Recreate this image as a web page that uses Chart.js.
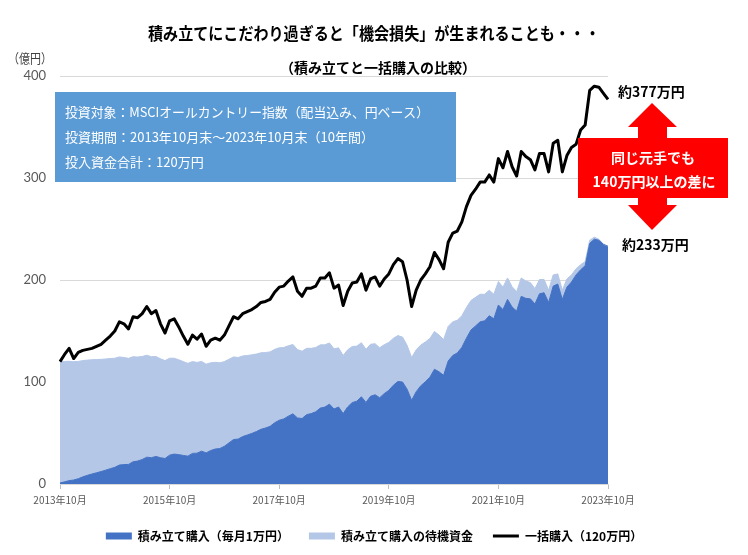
<!DOCTYPE html>
<html lang="ja">
<head>
<meta charset="utf-8">
<script src="https://cdn.jsdelivr.net/npm/chart.js@4"></script>
<style>
  body { margin: 0; background: #fff; }
  #wrap { width: 748px; height: 555px; position: relative; }
</style>
</head>
<body>
<div id="wrap"><canvas id="chart"></canvas></div>
<script>
// monthly data, 2013年10月 .. 2023年10月 (万円)
const startYear = 2013;
const startMonth = 10;
const monthCount = 121;

const tickLabels = ['2013年10月', '2015年10月', '2017年10月', '2019年10月', '2021年10月', '2023年10月'];
const yTicks = [0, 100, 200, 300, 400];

const seriesNames = ['積み立て購入（毎月1万円）', '積み立て購入の待機資金', '一括購入（120万円）'];

// 一括購入 (black line)
const lumpSum = [
  120, 127, 133, 123, 129, 131, 132, 133, 135, 137,
  141, 145, 150, 159, 157, 152, 164, 163, 167, 174,
  167, 170, 157, 148, 160, 162, 154, 145, 137, 146,
  142, 147, 135, 141, 143, 141, 146, 155, 164, 162,
  167, 169, 171, 174, 178, 179, 181, 188, 193, 194,
  199, 203, 189, 184, 192, 192, 194, 202, 202, 207,
  192, 195, 175, 189, 197, 198, 206, 190, 201, 203,
  194, 201, 206, 215, 221, 218, 200, 174, 190, 200,
  206, 213, 227, 220, 211, 237, 246, 248, 257, 272,
  283, 289, 296, 296, 303, 296, 319, 310, 326, 311,
  302, 326, 321, 318, 308, 324, 324, 306, 334, 337,
  306, 322, 330, 333, 347, 352, 386, 390, 389, 383,
  377
];

// 積み立て購入 (dark blue area)
const tsumitate = [
  1, 2.1, 3.3, 3.9, 5.2, 7, 8.5, 9.8, 11, 12.2,
  13.6, 15, 16.3, 18.6, 19, 19.2, 21.8, 22.5, 24, 26.3,
  25.8, 27, 25.8, 25, 28.3, 29.3, 28.8, 28, 27.3, 30,
  30.2, 32.2, 30.5, 32.8, 34.3, 34.8, 37, 40.3, 43.6, 44,
  46.5, 48, 49.6, 51.4, 53.6, 54.9, 56.5, 60, 62.5, 63.8,
  66.5, 68.8, 64.8, 64.2, 68, 69, 70.8, 74.4, 75.4, 78.3,
  73.5, 75.5, 69, 75.6, 79.8, 81.2, 85.5, 80, 86, 87.5,
  84.6, 88.6, 91.8, 96.8, 100.5, 100, 93, 82, 90.5, 96.3,
  100.2, 104.7, 112.5, 110, 106.5, 120.5, 126, 128.5, 134, 143,
  151, 155, 159, 160, 165, 162, 175.5, 171, 181, 173.5,
  169.5, 184, 182, 181.5, 176.5, 186.5, 187.5, 178, 194, 196,
  181, 193, 198, 205, 210, 214, 236, 240, 239, 235,
  233
];

// 積み立て購入の待機資金 (light blue, stacked on the dark area)
const waitingCash = [
  119, 118, 117, 116, 115, 114, 113, 112, 111, 110,
  109, 108, 107, 106, 105, 104, 103, 102, 101, 100,
  99, 98, 97, 96, 95, 94, 93, 92, 91, 90,
  89, 88, 87, 86, 85, 84, 83, 82, 81, 80,
  79, 78, 77, 76, 75, 74, 73, 72, 71, 70,
  69, 68, 67, 66, 65, 64, 63, 62, 61, 60,
  59, 58, 57, 56, 55, 54, 53, 52, 51, 50,
  49, 48, 47, 46, 45, 44, 43, 42, 41, 40,
  39, 38, 37, 36, 35, 34, 33, 32, 31, 30,
  29, 28, 27, 26, 25, 24, 23, 22, 21, 20,
  19, 18, 17, 16, 15, 14, 13, 12, 11, 10,
  9, 8, 7, 6, 5, 4, 3, 2, 1, 0,
  0
];

const months = [];
for (let i = 0; i < monthCount; i++) {
  const t = startMonth - 1 + i;
  months.push((startYear + Math.floor(t / 12)) + '年' + (t % 12 + 1) + '月');
}

const jp = '"Noto Sans CJK JP", sans-serif';

// draw text squeezed to a target width when needed
function fitText(ctx, text, x, y, maxW, align) {
  const w = ctx.measureText(text).width;
  const s = maxW ? Math.min(1, maxW / w) : 1;
  ctx.save();
  ctx.translate(x, y);
  ctx.scale(s, 1);
  ctx.textAlign = align || 'left';
  ctx.fillText(text, 0, 0);
  ctx.restore();
}

const notes = {
  id: 'notes',
  afterDraw(chart) {
    const ctx = chart.ctx;
    ctx.save();
    ctx.textBaseline = 'middle';

    // titles
    ctx.fillStyle = '#000';
    ctx.font = 'bold 17px ' + jp;
    fitText(ctx, '積み立てにこだわり過ぎると「機会損失」が生まれることも・・・', 374, 34, 452, 'center');
    ctx.font = 'bold 14px ' + jp;
    fitText(ctx, '（積み立てと一括購入の比較）', 378, 68, 200, 'center');

    ctx.fillStyle = '#404040';
    ctx.font = '13px ' + jp;
    fitText(ctx, '（億円）', 8, 58, 44, 'left');

    // info box
    ctx.fillStyle = '#5b9bd5';
    ctx.fillRect(55, 92, 401, 90);
    ctx.fillStyle = '#fff';
    ctx.font = '13px ' + jp;
    fitText(ctx, '投資対象：MSCIオールカントリー指数（配当込み、円ベース）', 65, 112, 364, 'left');
    fitText(ctx, '投資期間：2013年10月末～2023年10月末（10年間）', 65, 137, 354, 'left');
    fitText(ctx, '投入資金合計：120万円', 65, 162, 160, 'left');

    // red double arrow + box
    ctx.fillStyle = '#ff0000';
    ctx.beginPath();
    ctx.moveTo(652, 103);
    ctx.lineTo(677, 127);
    ctx.lineTo(667, 127);
    ctx.lineTo(667, 205);
    ctx.lineTo(677, 205);
    ctx.lineTo(652, 230);
    ctx.lineTo(628, 205);
    ctx.lineTo(638, 205);
    ctx.lineTo(638, 127);
    ctx.lineTo(628, 127);
    ctx.closePath();
    ctx.fill();
    ctx.fillRect(578, 138, 150, 60);

    ctx.fillStyle = '#fff';
    ctx.font = 'bold 14px ' + jp;
    fitText(ctx, '同じ元手でも', 653, 158, 0, 'center');
    fitText(ctx, '140万円以上の差に', 654, 182, 126, 'center');

    // end labels
    ctx.fillStyle = '#000';
    ctx.font = 'bold 14px ' + jp;
    fitText(ctx, '約377万円', 618, 92, 0, 'left');
    fitText(ctx, '約233万円', 622, 245, 0, 'left');

    ctx.restore();
  }
};

const ctx = document.getElementById('chart').getContext('2d');
const myChart = new Chart(ctx, {
  type: 'line',
  data: {
    labels: months,
    datasets: [{
      label: seriesNames[0],
      data: tsumitate,
      stack: 'acc',
      order: 1,
      fill: 'origin',
      backgroundColor: '#4472c4',
      borderColor: '#4472c4',
      borderWidth: 1,
      pointRadius: 0,
      pointStyle: 'rect',
      pointBackgroundColor: '#4472c4',
      pointBorderWidth: 0
    }, {
      label: seriesNames[1],
      data: waitingCash,
      stack: 'acc',
      order: 1,
      fill: '-1',
      backgroundColor: '#b4c7e7',
      borderColor: '#b4c7e7',
      borderWidth: 1,
      pointRadius: 0,
      pointStyle: 'rect',
      pointBackgroundColor: '#b4c7e7',
      pointBorderWidth: 0
    }, {
      label: seriesNames[2],
      data: lumpSum,
      stack: 'lump',
      order: 0,
      fill: false,
      borderColor: '#000',
      backgroundColor: '#000',
      borderWidth: 3,
      borderJoinStyle: 'round',
      pointRadius: 0,
      pointStyle: 'line',
      pointBorderColor: '#000',
      pointBorderWidth: 3
    }]
  },
  options: {
    responsive: true,
    maintainAspectRatio: false,
    animation: false,
    layout: { padding: { left: 0, right: 0, top: 76, bottom: 3 } },
    plugins: {
      filler: { drawTime: 'beforeDatasetsDraw' },
      tooltip: { enabled: false },
      title: { display: false },
      legend: {
        position: 'bottom',
        labels: {
          usePointStyle: true,
          pointStyleWidth: 26,
          boxHeight: 7,
          padding: 20,
          color: '#000',
          font: { family: jp, size: 12, weight: 'bold' },
          sort: (a, b) => a.datasetIndex - b.datasetIndex
        }
      }
    },
    scales: {
      x: {
        afterFit: (scale) => { scale.height = 26; },
        grid: {
          drawOnChartArea: false,
          tickLength: 5,
          color: (c) => tickLabels.includes(months[c.index]) ? '#bfbfbf' : 'rgba(0,0,0,0)'
        },
        border: { color: '#d9d9d9' },
        ticks: {
          autoSkip: false,
          maxRotation: 0,
          padding: 5,
          color: '#595959',
          font: { family: jp, size: 10 },
          callback: function (value) {
            const lab = this.getLabelForValue(value);
            return tickLabels.includes(lab) ? lab : '';
          }
        }
      },
      y: {
        stacked: true,
        min: yTicks[0],
        max: yTicks[yTicks.length - 1],
        afterFit: (scale) => { scale.width = 60; },
        afterBuildTicks: (scale) => { scale.ticks = yTicks.map(v => ({ value: v })); },
        grid: { color: '#d9d9d9', drawTicks: false },
        border: { display: false },
        ticks: {
          padding: 14,
          color: '#595959',
          font: { family: 'Lato, sans-serif', size: 13 }
        }
      },
      // empty right-hand strip that leaves room for the notes
      side: {
        position: 'right',
        afterFit: (scale) => { scale.width = 140; },
        grid: { display: false },
        border: { display: false },
        ticks: { display: false }
      }
    }
  },
  plugins: [notes]
});
</script>
</body>
</html>
